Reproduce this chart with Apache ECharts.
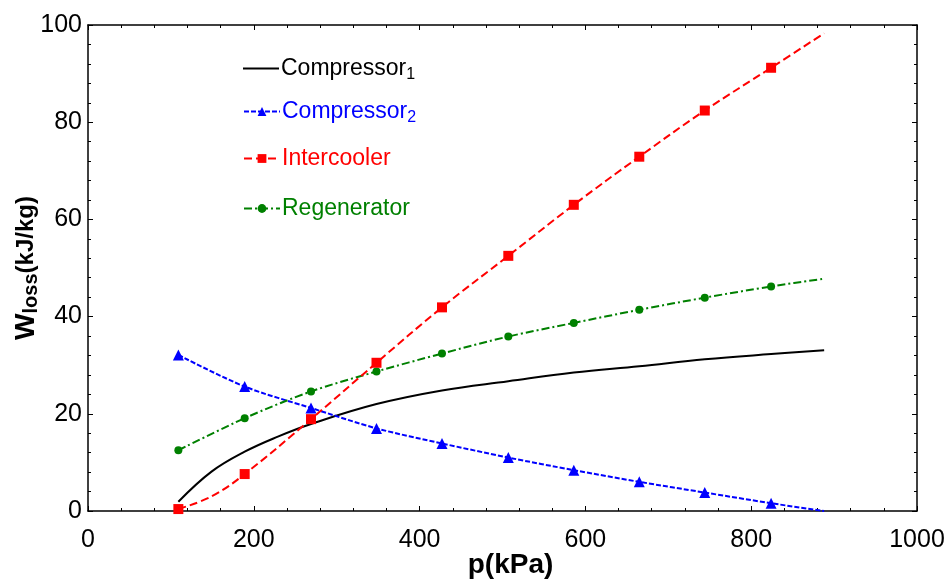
<!DOCTYPE html>
<html>
<head>
<meta charset="utf-8">
<script src="https://cdn.jsdelivr.net/npm/echarts@6/dist/echarts.min.js"></script>
<style>html,body{margin:0;padding:0;background:#fff;}#c{width:946px;height:581px;}</style>
</head>
<body>
<div id="c"></div>
<script>
// ---- data ----
const markerX = [109, 189, 269, 348, 427, 507, 586, 665, 744, 824];
const comp1X = [109, 149, 189, 229, 269, 348, 427, 507, 586, 665, 744, 824, 888];
const comp1Y = [1.9, 8.1, 12.2, 15.3, 17.9, 22.0, 24.8, 26.7, 28.5, 29.8, 31.2, 32.3, 33.1];
const comp2X = [109, 189, 269, 348, 427, 507, 586, 665, 744, 824, 888];
const comp2Y = [32.1, 25.6, 21.2, 17.0, 13.9, 11.0, 8.4, 6.0, 3.8, 1.6, 0];
const interX = [109, 149, 189, 269, 348, 427, 507, 586, 665, 744, 824, 888];
const interY = [0.4, 3.0, 7.6, 18.9, 30.5, 41.9, 52.5, 63.0, 72.9, 82.4, 91.2, 98.3];
const regenX = [109, 189, 269, 348, 427, 507, 586, 665, 744, 824, 888];
const regenY = [12.5, 19.1, 24.6, 28.7, 32.4, 35.9, 38.7, 41.4, 43.9, 46.2, 47.8];
const xTicks = [0, 200, 400, 600, 800, 1000];
const yTicks = [0, 20, 40, 60, 80, 100];
const seriesNames = ['Compressor1', 'Compressor2', 'Intercooler', 'Regenerator'];

function build(xs, ys, sym) {
  return xs.map((x, i) => ({
    value: [x, ys[i]],
    symbol: markerX.indexOf(x) >= 0 ? sym : 'none'
  }));
}

const FONT = "'Liberation Sans', Arial, sans-serif";
const chart = echarts.init(document.getElementById('c'), null, {renderer: 'canvas'});

const axisCommon = {
  type: 'value',
  axisLine: {show: true, onZero: false, lineStyle: {color: '#000', width: 1.5}},
  axisTick: {show: true, inside: true, length: 5, lineStyle: {color: '#000', width: 1}},
  minorTick: {show: true, splitNumber: 5, length: 3, lineStyle: {color: '#000', width: 1}},
  splitLine: {show: false},
  minorSplitLine: {show: false}
};

const colors = ['#000000', '#0000ff', '#ff0000', '#008000'];
const legendTops = [57, 100, 147, 197];

const legends = seriesNames.map((n, i) => {
  const lg = {
    data: [{name: n, textStyle: {color: colors[i]}}],
    left: 243,
    top: legendTops[i],
    padding: 0,
    itemWidth: 36,
    itemHeight: 11,
    itemGap: 0,
    selectedMode: false,
    formatter: function (name) {
      const m = name.match(/^(.*?)(\d)$/);
      if (m) return '{t|' + m[1] + '}{s|' + m[2] + '}';
      return '{t|' + name + '}';
    },
    textStyle: {
      fontFamily: FONT,
      padding: [0, 0, 0, -3],
      rich: {
        t: {fontSize: 23, fontFamily: FONT},
        s: {fontSize: 16, fontFamily: FONT, padding: [12, 0, 0, 0]}
      }
    }
  };
  if (i === 0) {
    lg.data[0].icon = 'rect';
    lg.itemHeight = 2;
  }
  return lg;
});

const option = {
  animation: false,
  backgroundColor: '#fff',
  grid: {left: 88, right: 29, top: 25, bottom: 70, containLabel: false, outerBoundsMode: 'none'},
  legend: legends,
  xAxis: [
    Object.assign({}, axisCommon, {
      min: 0, max: 1000, interval: 200, position: 'bottom',
      axisLabel: {
        show: true, margin: 17, color: '#000', fontSize: 25, fontFamily: FONT,
        formatter: v => (xTicks.indexOf(v) >= 0 ? String(v) : '')
      },
      name: 'p(kPa)', nameLocation: 'middle', nameGap: 40, nameMoveOverlap: false,
      nameTextStyle: {color: '#000', fontSize: 28, fontWeight: 'bold', fontFamily: FONT, padding: [0, 0, 0, 16]}
    }),
    Object.assign({}, axisCommon, {
      min: 0, max: 1000, interval: 200, position: 'top',
      axisLabel: {show: false}
    })
  ],
  yAxis: [
    Object.assign({}, axisCommon, {
      min: 0, max: 100, interval: 20, position: 'left',
      axisLabel: {
        show: true, margin: 6, color: '#000', fontSize: 25, fontFamily: FONT,
        formatter: v => (yTicks.indexOf(v) >= 0 ? String(v) : '')
      },
      name: '{w|W}{l|loss}{u|(kJ/kg)}', nameLocation: 'middle', nameGap: 47, nameRotate: 90,
      nameMoveOverlap: false,
      nameTextStyle: {
        color: '#000', fontFamily: FONT, fontWeight: 'bold',
        rich: {
          w: {fontSize: 28, fontWeight: 'bold', fontFamily: FONT, color: '#000'},
          l: {fontSize: 20, fontWeight: 'bold', fontFamily: FONT, color: '#000', padding: [10, 0, 0, 0]},
          u: {fontSize: 24, fontWeight: 'bold', fontFamily: FONT, color: '#000'}
        }
      }
    }),
    Object.assign({}, axisCommon, {
      min: 0, max: 100, interval: 20, position: 'right',
      axisLabel: {show: false}
    })
  ],
  series: [
    {
      name: seriesNames[0], type: 'line', smooth: 0.4, symbol: 'none',
      data: comp1X.map((x, i) => [x, comp1Y[i]]),
      lineStyle: {color: colors[0], width: 2, type: 'solid'},
      itemStyle: {color: colors[0]}, z: 3
    },
    {
      name: seriesNames[1], type: 'line', smooth: 0.3, symbol: 'triangle', symbolSize: 11,
      data: build(comp2X, comp2Y, 'triangle'),
      lineStyle: {color: colors[1], width: 2, type: [5, 2]},
      itemStyle: {color: colors[1]}, z: 4
    },
    {
      name: seriesNames[2], type: 'line', smooth: 0.4, symbol: 'rect', symbolSize: 10,
      data: build(interX, interY, 'rect'),
      lineStyle: {color: colors[2], width: 2, type: [8, 4]},
      itemStyle: {color: colors[2]}, z: 5
    },
    {
      name: seriesNames[3], type: 'line', smooth: 0.3, symbol: 'circle', symbolSize: 8,
      data: build(regenX, regenY, 'circle'),
      lineStyle: {color: colors[3], width: 2, type: [8, 3, 2, 3]},
      itemStyle: {color: colors[3]}, z: 4
    }
  ]
};
chart.setOption(option);
</script>
</body>
</html>
